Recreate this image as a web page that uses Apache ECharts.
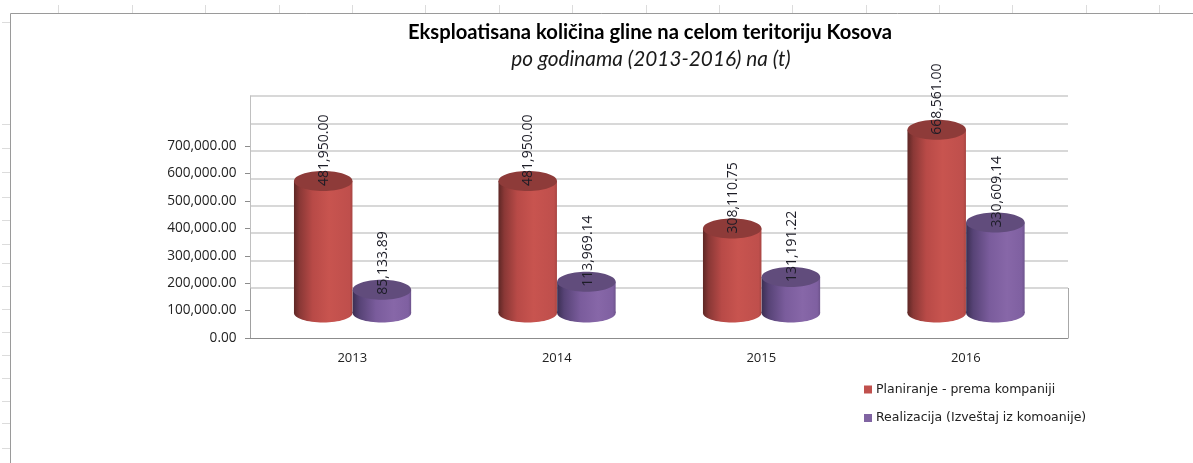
<!DOCTYPE html>
<html><head><meta charset="utf-8">
<style>html,body{margin:0;padding:0;background:#fff}#c{width:1193px;height:463px}</style>
<script src="https://cdn.jsdelivr.net/npm/echarts@6/dist/echarts.min.js"></script>
</head><body><div id="c"></div>
<script>
const categories = ['2013','2014','2015','2016'];
const planned = [481950.00, 481950.00, 308110.75, 668561.00];
const realized = [85133.89, 113969.14, 131191.22, 330609.14];
const seriesNames = ['Planiranje - prema kompaniji','Realizacija (Izveštaj iz komoanije)'];
const titleText = 'Eksploatisana količina gline na celom teritoriju Kosova';
const subtitleText = 'po godinama (2013-2016) na (t)';
const sheetTopStubs = [58,132,205,279,352,425,499,572,646,719,792,866,939,1012,1086,1159];
const sheetLeftStubs = [22,124,148,172,197,220,244,263,286,309,332,355,378,401,423,448];

const chart = echarts.init(document.getElementById('c'));
const FONT = '"Open Sans"';
const DEPTH = 25, RY = 10;
const fmt = v => v.toLocaleString('en-US',{minimumFractionDigits:2,maximumFractionDigits:2});

function cyl(stops, topColor, side){
  return function(params, api){
    const v = api.value(1);
    const base = api.coord([api.value(0), 0]);
    const top = api.coord([api.value(0), v]);
    const band = api.size([1,0])[0];
    const w = band*0.286, cx = base[0] + side*w/2 + (side>0?0.4:0.2);
    const yb = base[1]-DEPTH, yt = top[1]-DEPTH;
    const fill = {type:'linear',x:0,y:0,x2:1,y2:0,colorStops:stops};
    return {type:'group',children:[
      {type:'ellipse',shape:{cx:cx,cy:yb,rx:w/2,ry:RY-0.5},style:{fill:fill}},
      {type:'rect',shape:{x:cx-w/2,y:yt,width:w,height:yb-yt},style:{fill:fill}},
      {type:'ellipse',shape:{cx:cx,cy:yt,rx:w/2,ry:RY},style:{fill:topColor}},
      {type:'text',x:cx+(side>0?1.5:0.5),y:yt+5,rotation:Math.PI/2,z2:10,
       style:{text:fmt(v),fill:'#1c1c26',font:'14px '+FONT,align:'left',verticalAlign:'middle'}}
    ]};
  };
}
const redStops=[{offset:0,color:'#5e2725'},{offset:0.1,color:'#8a3836'},{offset:0.32,color:'#b84a47'},{offset:0.6,color:'#c8544f'},{offset:0.95,color:'#bf4f4c'},{offset:1,color:'#a84542'}];
const purpleStops=[{offset:0,color:'#3b2f53'},{offset:0.12,color:'#574376'},{offset:0.4,color:'#7a5c9c'},{offset:0.7,color:'#8767a8'},{offset:0.95,color:'#7f60a1'},{offset:1,color:'#6e548d'}];

const graphics=[];
const stub='#dcdcdc';
sheetTopStubs.forEach(x=>graphics.push({type:'line',shape:{x1:x+.5,y1:5,x2:x+.5,y2:13},style:{stroke:stub,lineWidth:1},silent:true}));
sheetLeftStubs.forEach(y=>graphics.push({type:'line',shape:{x1:2,y1:y+.5,x2:10,y2:y+.5},style:{stroke:stub,lineWidth:1},silent:true}));
graphics.push({type:'line',shape:{x1:10.5,y1:13.5,x2:1193,y2:13.5},style:{stroke:'#9a9a9a',lineWidth:1},silent:true});
graphics.push({type:'line',shape:{x1:10.5,y1:13.5,x2:10.5,y2:463},style:{stroke:'#9a9a9a',lineWidth:1},silent:true});
graphics.push({type:'line',shape:{x1:1068.5,y1:288,x2:1068.5,y2:338},style:{stroke:'#a8a8a8',lineWidth:1},silent:true});

chart.setOption({
  animation:false,
  backgroundColor:'#ffffff',
  title:[
    {text:titleText,left:645,top:17,textAlign:'center',textStyle:{fontFamily:'Lato',fontWeight:'bold',fontSize:20.2,color:'#000'}},
    {text:subtitleText,left:646,top:43.5,textAlign:'center',textStyle:{fontFamily:'Lato',fontStyle:'italic',fontWeight:'normal',fontSize:20.8,color:'#1a1a1a'}}
  ],
  legend:{orient:'vertical',left:864,top:383,padding:0,itemWidth:8,itemHeight:8,itemGap:15.5,icon:'rect',
    data:seriesNames,textStyle:{fontFamily:'"DejaVu Sans"',fontSize:12.5,color:'#222',padding:[0,0,0,-1]}},
  grid:[
    {left:250,right:125,top:146.2,bottom:125},
    {left:250,right:125,top:96,bottom:175}
  ],
  xAxis:[
    {type:'category',gridIndex:0,data:categories,axisLine:{lineStyle:{color:'#8c8c8c'}},axisTick:{length:5,lineStyle:{color:'#8c8c8c'}},
     axisLabel:{fontFamily:FONT,fontSize:13,color:'#222',margin:14},splitLine:{show:false}},
    {type:'category',gridIndex:1,data:categories,show:false}
  ],
  yAxis:[
    {type:'value',gridIndex:0,min:0,max:700000,interval:100000,axisLine:{show:true,lineStyle:{color:'#a0a0a0'}},axisTick:{show:true,length:5,lineStyle:{color:'#8c8c8c'}},
     axisLabel:{fontFamily:FONT,fontSize:13.6,color:'#222',margin:13.5,formatter:v=>fmt(v)},splitLine:{show:false}},
    {type:'value',gridIndex:1,min:0,max:700000,interval:100000,axisLine:{show:true,lineStyle:{color:'#c0c0c0'}},axisTick:{show:false},axisLabel:{show:false},
     splitLine:{show:true,lineStyle:{color:'#d8d8d8',width:2}}}
  ],
  graphic:graphics,
  series:[
    {name:seriesNames[0],type:'custom',xAxisIndex:0,yAxisIndex:0,itemStyle:{color:'#c0504d'},z:5,
     encode:{x:0,y:1},data:planned.map((v,i)=>[i,v]),renderItem:cyl(redStops,'#8e3b39',-1)},
    {name:seriesNames[1],type:'custom',xAxisIndex:0,yAxisIndex:0,itemStyle:{color:'#8064a2'},z:5,
     encode:{x:0,y:1},data:realized.map((v,i)=>[i,v]),renderItem:cyl(purpleStops,'#614c7c',1)}
  ]
});
</script></body></html>
